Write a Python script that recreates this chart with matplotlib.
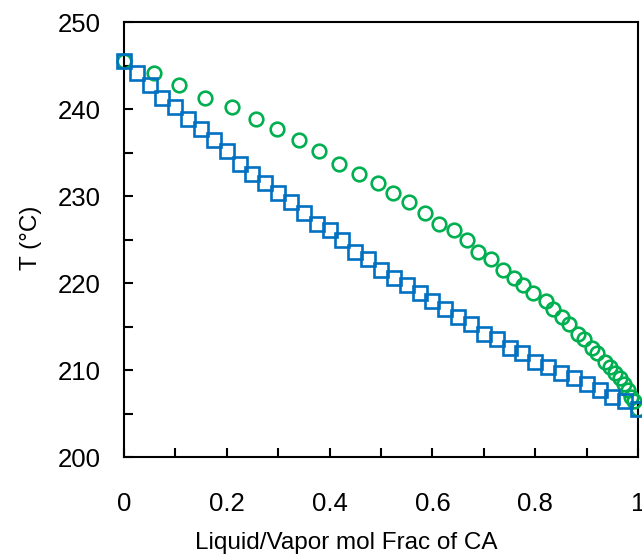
import matplotlib
matplotlib.use("Agg")
import matplotlib.pyplot as plt
from matplotlib.ticker import MultipleLocator

# shared temperatures (degC) for the liquid / vapor points
temps = [245.50, 244.17, 242.79, 241.25, 240.22, 238.84, 237.74, 236.40,
         235.17, 233.72, 232.57, 231.49, 230.34, 229.31, 228.09, 226.83,
         226.06, 224.91, 223.56, 222.72, 221.46, 220.62, 219.82, 218.85,
         217.90, 217.06, 216.09, 215.33, 214.18, 213.53, 212.53, 211.98,
         210.92, 210.39, 209.68, 209.05, 208.36, 207.70, 206.94, 206.40,
         205.48]

# liquid mol frac of CA
x_liq = [0.000, 0.025, 0.050, 0.075, 0.100, 0.125, 0.150, 0.175, 0.200,
         0.225, 0.250, 0.275, 0.300, 0.325, 0.350, 0.375, 0.400, 0.425,
         0.450, 0.475, 0.500, 0.525, 0.550, 0.575, 0.600, 0.625, 0.650,
         0.675, 0.700, 0.725, 0.750, 0.775, 0.800, 0.825, 0.850, 0.875,
         0.900, 0.925, 0.950, 0.975, 1.000]

# vapor mol frac of CA
y_vap = [0.000, 0.058, 0.107, 0.158, 0.210, 0.256, 0.297, 0.340, 0.379,
         0.418, 0.458, 0.495, 0.523, 0.554, 0.586, 0.613, 0.641, 0.667,
         0.689, 0.713, 0.738, 0.759, 0.777, 0.796, 0.821, 0.835, 0.852,
         0.866, 0.884, 0.895, 0.911, 0.920, 0.936, 0.945, 0.955, 0.965,
         0.973, 0.980, 0.986, 0.991, 1.000]

plt.rcParams['font.family'] = ['Liberation Sans', 'DejaVu Sans']

fig = plt.figure(figsize=(6.42, 5.57), dpi=100)
ax = fig.add_axes([0.193, 0.1795, 0.801, 0.781])

ax.plot(y_vap, temps, 'o', ms=9.8, mfc='none', mec='#00B050', mew=1.9,
        clip_on=False, zorder=3)
ax.plot(x_liq, temps, 's', ms=10.3, mfc='none', mec='#0070C0', mew=1.9,
        clip_on=False, zorder=4)

ax.set_xlim(0, 1)
ax.set_ylim(200, 250)
ax.xaxis.set_major_locator(MultipleLocator(0.2))
ax.xaxis.set_minor_locator(MultipleLocator(0.1))
ax.yaxis.set_major_locator(MultipleLocator(10))
ax.yaxis.set_minor_locator(MultipleLocator(5))
ax.xaxis.set_major_formatter(plt.FuncFormatter(lambda v, p: '%g' % round(v, 1)))

ax.tick_params(which='both', direction='in', length=6.5, width=1.5,
               top=False, right=False, labelsize=18.5)
ax.tick_params(axis='x', pad=25)
ax.tick_params(axis='y', pad=17)

for s in ax.spines.values():
    s.set_linewidth(1.5)

ax.set_xlabel('Liquid/Vapor mol Frac of CA', fontsize=17.5, va='bottom')
ax.xaxis.set_label_coords(0.432, -0.2227)
ax.set_ylabel('T (°C)', fontsize=17.5)
ax.yaxis.set_label_coords(-0.160, 0.505)

fig.savefig('out.png', dpi=100)
